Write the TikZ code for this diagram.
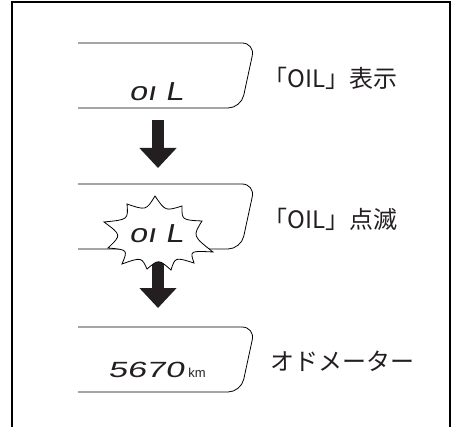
\documentclass[tikz,border=0pt]{standalone}
\usepackage{fontspec}
\usetikzlibrary{calc,arrows.meta}
\newfontfamily\jpfont{Noto Sans CJK JP}
\newfontfamily\segfont[FakeSlant=0.2,FakeStretch=1.25]{Liberation Sans}
\newfontfamily\odofont[FakeSlant=0.2,FakeStretch=1.55]{Liberation Sans}
\newfontfamily\kmfont{Liberation Sans}
\definecolor{ink}{HTML}{231F20}

\begin{document}
\begin{tikzpicture}[x=1pt, y=-1pt,
  lcd/.style={line width=0.8pt, rounded corners=13pt},
  seg/.style={inner sep=0pt, anchor=base, text=ink, font=\segfont\fontsize{26}{26}\selectfont},
  lbl/.style={inner sep=0pt, anchor=base west, text=ink, font=\jpfont\fontsize{24}{24}\selectfont},
  blk/.style={line width=12pt, ink, -{Triangle[width=36pt, length=20pt]}}]
\useasboundingbox (0,0) rectangle (454,427);
\draw[line width=2pt] (12,427) -- (12,2) -- (450,2) -- (450,427);

\foreach \y in {43,184,327}
  \draw[lcd] (78,\y) -- (255,\y) -- (241,\y+65) -- (78,\y+65);

\node[seg] (oil) at (156,101) {oı L};
\node[lbl] (lab1) at (263,88) {「OIL」表示};

\coordinate (a1) at (158,120);
\coordinate (b1) at (158,168);
\draw[blk] (a1) -- (b1);

\coordinate (a2) at (158,262);
\coordinate (b2) at (158,308);
\draw[blk] (a2) -- (b2);

\coordinate (c) at (158,235);
\foreach \n/\x/\y in {1/104/222, 2/127/204, 3/155/196, 4/182/206, 5/202/221, 6/213/252,
                      7/194/263, 8/171/270, 9/147/269, 10/122/264, 11/108/248}
  \coordinate (t\n) at (\x,\y);
\draw[line width=0.8pt, fill=white] (t1)
  foreach \i [evaluate=\i as \j using {int(mod(\i,11)+1)}] in {1,...,11} {
    .. controls ($.3*(c)+.35*(t\i)+.35*(t\j)$) .. (t\j) } -- cycle;

\node[seg] (oilb) at (156,242) {oı L};
\node[lbl] (lab2) at (263,229) {「OIL」点滅};

\node[seg, anchor=base west, font=\odofont\fontsize{22}{22}\selectfont] (odo) at (108,377) {5670};
\node[anchor=base west, inner sep=0pt, text=ink, font=\kmfont\fontsize{13}{13}\selectfont] (km) at ([xshift=4pt]odo.base east) {km};
\node[lbl] (lab3) at (270,370) {オドメーター};
\end{tikzpicture}
\end{document}
